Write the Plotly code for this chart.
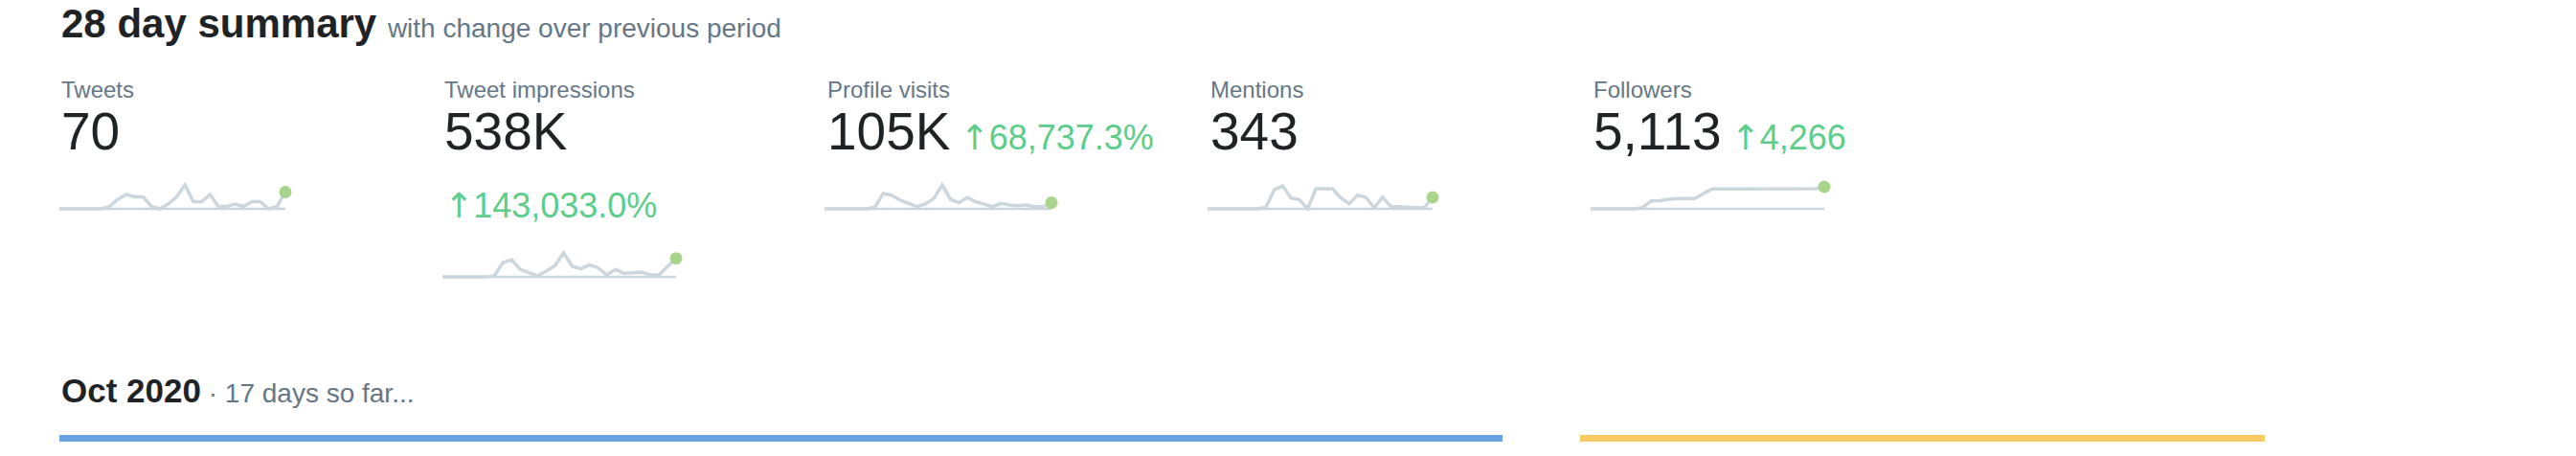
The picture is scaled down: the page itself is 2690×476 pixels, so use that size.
import plotly.graph_objects as go

# ---- data ----
metric_names = ["Tweets", "Tweet impressions", "Profile visits", "Mentions", "Followers"]
metric_totals = ["70", "538K", "105K", "343", "5,113"]
metric_changes = [None, "143,033.0%", "68,737.3%", None, "4,266"]

tweets_daily = [0, 0, 0, 0, 0, 0, 1, 4, 6, 5, 5, 1, 0, 2, 5, 10, 3, 3, 6, 1, 1, 2, 1, 3, 3, 0, 1, 7]
impressions_daily = [0, 0, 0, 0, 0, 0, 2900, 43100, 50700, 22000, 12400, 2900, 17200, 33500,
                     71800, 31600, 23900, 36400, 26800, 5700, 22000, 10500, 12400, 14400,
                     5700, 5700, 30600, 55500]
profile_visits_daily = [0, 0, 0, 0, 0, 0, 1100, 10700, 9200, 5900, 3700, 1500, 3300, 7000,
                        16400, 6400, 4200, 7700, 4800, 3100, 1500, 3700, 2600, 2200, 2600,
                        1500, 1500, 4200]
mentions_daily = [0, 0, 0, 0, 0, 0, 0, 3, 33, 40, 19, 16, 0, 35, 35, 35, 19, 9, 24, 20, 2, 20,
                  4, 3, 2, 2, 2, 20]
followers_daily = [847, 847, 848, 848, 849, 849, 1094, 2392, 2410, 2701, 2825, 2830, 2838, 3752,
                   4678, 4690, 4702, 4710, 4716, 4722, 4740, 4751, 4745, 4742, 4748, 4752, 4760,
                   5113]

month_label = "Oct 2020"
month_note = "17 days so far..."

series = [tweets_daily, impressions_daily, profile_visits_daily, mentions_daily, followers_daily]

# ---- layout helpers (pixels -> paper) ----
W, H = 2690, 476
DARK = "#1f2326"
GRAY = "#657786"
GREEN = "#5ccd8b"
LINE = "#ccd6dd"
DOT = "#a9d48c"
FONT = "Liberation Sans, Arial, Helvetica, sans-serif"
ARROW = "<span style='font-family:DejaVu Sans'>↑</span>"


def px_x(x):
    return x / W


def px_y(y):
    return 1 - y / H


col_x = [62, 462, 862, 1262, 1662]
# sparkline boxes: left, right, top of peak, baseline
spark_box = [(62, 298, 193, 218), (462, 706, 264, 289), (861, 1098, 193, 218),
             (1261, 1496, 194, 218), (1661, 1905, 195, 218)]

fig = go.Figure()
annotations = []
shapes = []
axes = {}

for i, vals in enumerate(series):
    s = "" if i == 0 else str(i + 1)
    x0, x1, top, base = spark_box[i]
    n = len(vals) - 1
    pad = 4
    kx = pad / (x1 - x0)
    lo, hi = min(vals), max(vals)
    span = hi - lo
    ky = pad / (base - top)
    axes["xaxis" + s] = dict(domain=[px_x(x0 - pad), px_x(x1 + pad)],
                             range=[-n * kx, n + n * kx], visible=False,
                             fixedrange=True, anchor="y" + s)
    axes["yaxis" + s] = dict(domain=[px_y(base + pad), px_y(top - pad)],
                             range=[lo - span * ky, hi + span * ky], visible=False,
                             fixedrange=True, anchor="x" + s)
    days = list(range(len(vals)))
    fig.add_trace(go.Scatter(x=days, y=vals, mode="lines",
                             line=dict(color=LINE, width=3.5),
                             xaxis="x" + s, yaxis="y" + s, hoverinfo="skip"))
    fig.add_trace(go.Scatter(x=[days[-1]], y=[vals[-1]], mode="markers",
                             marker=dict(color=DOT, size=13), cliponaxis=False,
                             xaxis="x" + s, yaxis="y" + s, hoverinfo="skip"))
    shapes.append(dict(type="line", xref="x" + s, yref="y" + s, x0=0, x1=n, y0=lo, y1=lo,
                       line=dict(color=LINE, width=2.5), layer="below"))

    # labels and numbers
    annotations.append(dict(text=metric_names[i], x=px_x(col_x[i]), y=px_y(93.5),
                            font=dict(size=24, color=GRAY)))
    value_text = metric_totals[i]
    if metric_changes[i] and i != 1:
        value_text += ("<span style='font-size:36px;color:%s'> %s%s</span>"
                       % (GREEN, ARROW, metric_changes[i]))
    annotations.append(dict(text=value_text, x=px_x(col_x[i]), y=px_y(137),
                            font=dict(size=55, color=DARK)))
    if i == 1:
        annotations.append(dict(text=ARROW + metric_changes[i], x=px_x(col_x[i]), y=px_y(215),
                                font=dict(size=36, color=GREEN)))

# header
annotations.append(dict(
    text="<b>28 day summary </b><span style='font-size:28px;color:%s'>with change over previous period</span>" % GRAY,
    x=px_x(62), y=px_y(24), font=dict(size=42, color=DARK)))
annotations.append(dict(
    text="<b>%s</b><span style='font-size:28px;color:%s'> · %s</span>" % (month_label, GRAY, month_note),
    x=px_x(62), y=px_y(407), font=dict(size=35, color=DARK)))

for a in annotations:
    a.update(xref="paper", yref="paper", xanchor="left", yanchor="middle", showarrow=False)

# card top borders
shapes.append(dict(type="rect", xref="paper", yref="paper", x0=px_x(62), x1=px_x(1569),
                   y0=px_y(461), y1=px_y(454), fillcolor="#66a3e0", line=dict(width=0)))
shapes.append(dict(type="rect", xref="paper", yref="paper", x0=px_x(1650), x1=px_x(2365),
                   y0=px_y(461), y1=px_y(454), fillcolor="#f7ca63", line=dict(width=0)))

fig.update_layout(width=W, height=H, margin=dict(l=0, r=0, t=0, b=0),
                  paper_bgcolor="white", plot_bgcolor="white", showlegend=False,
                  font=dict(family=FONT), annotations=annotations, shapes=shapes, **axes)

# figure fills the page exactly, so drop the default body margin
fig.write_html("out.html", config={"displayModeBar": False},
               post_script="document.body.style.margin = '0';")
